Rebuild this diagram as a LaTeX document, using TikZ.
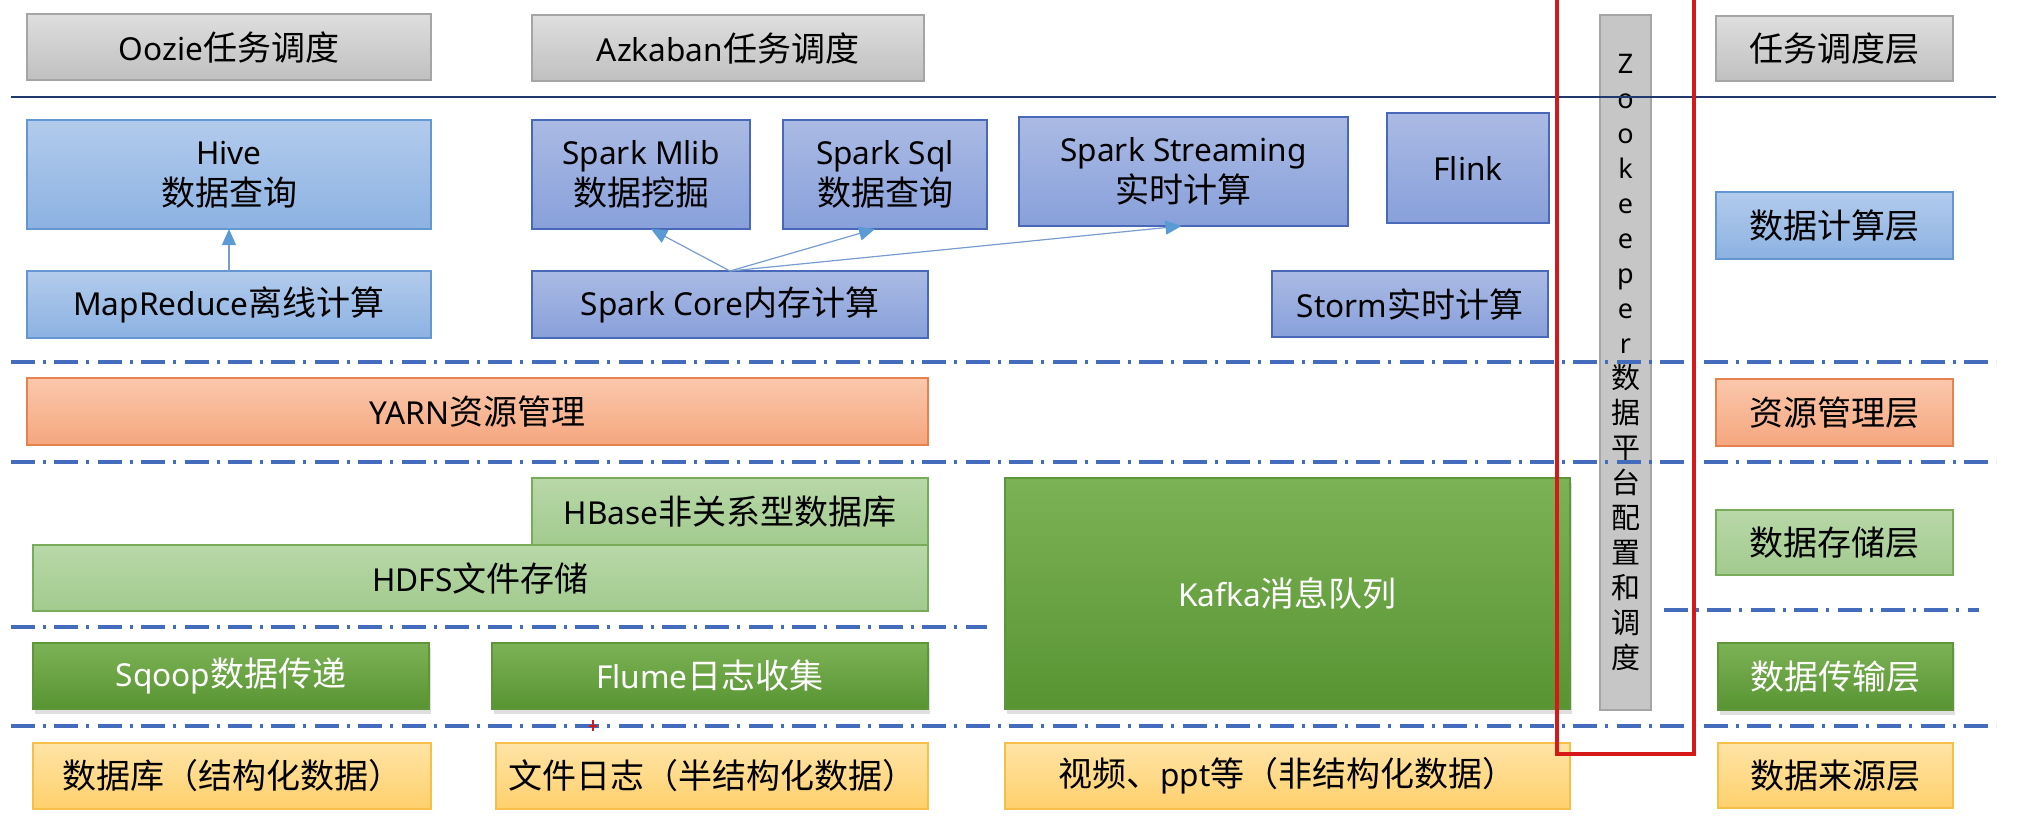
\documentclass[tikz,border=0pt]{standalone}
\usepackage{fontspec}
\setmainfont{Noto Sans}[Scale=0.93]
\newfontfamily\zhfont{Noto Sans CJK SC}
\newcommand\zh[1]{{\zhfont #1}}
\usetikzlibrary{arrows.meta,shadows}
\definecolor{grayT}{RGB}{222,222,222}
\definecolor{grayB}{RGB}{192,192,192}
\definecolor{grayD}{RGB}{165,165,165}
\definecolor{ltblueT}{RGB}{178,203,236}
\definecolor{ltblueB}{RGB}{140,178,226}
\definecolor{ltblueD}{RGB}{100,150,210}
\definecolor{spT}{RGB}{170,186,228}
\definecolor{spB}{RGB}{136,160,218}
\definecolor{spD}{RGB}{72,104,184}
\definecolor{orT}{RGB}{250,200,172}
\definecolor{orB}{RGB}{245,166,126}
\definecolor{orD}{RGB}{230,130,80}
\definecolor{lgT}{RGB}{184,216,168}
\definecolor{lgB}{RGB}{162,202,142}
\definecolor{lgD}{RGB}{120,172,90}
\definecolor{gT}{RGB}{124,178,86}
\definecolor{gB}{RGB}{88,148,50}
\definecolor{gD}{RGB}{96,150,58}
\definecolor{yT}{RGB}{255,228,166}
\definecolor{yB}{RGB}{255,208,108}
\definecolor{yD}{RGB}{246,192,72}
\definecolor{ddblue}{RGB}{68,108,188}
\definecolor{navy}{RGB}{32,56,110}
\definecolor{redline}{RGB}{214,24,24}
\definecolor{arrblue}{RGB}{91,155,213}
\definecolor{arrline}{RGB}{120,156,206}
\newcommand\mainsize{\fontsize{17}{20.5}\selectfont}
\newcommand\zksize{\fontsize{14.5}{17.5}\selectfont}
\tikzset{
  box/.style={draw, line width=0.7pt, inner sep=0pt, outer sep=0pt, align=center, font=\mainsize, text=black},
  graybox/.style={box, draw=grayD, top color=grayT, bottom color=grayB},
  ltbluebox/.style={box, draw=ltblueD, top color=ltblueT, bottom color=ltblueB},
  sparkbox/.style={box, draw=spD, top color=spT, bottom color=spB},
  orangebox/.style={box, draw=orD, top color=orT, bottom color=orB},
  lgreenbox/.style={box, draw=lgD, top color=lgT, bottom color=lgB},
  greenbox/.style={box, draw=gD, top color=gT, bottom color=gB, text=white,
    drop shadow={shadow xshift=1pt, shadow yshift=-2.5pt, opacity=0.25}},
  yellowbox/.style={box, draw=yD, top color=yT, bottom color=yB},
  zkbox/.style={box, draw=grayD, fill=grayB!90!white, font=\zksize},
  ddline/.style={draw=ddblue, line width=1.65pt, dash pattern=on 12pt off 4pt on 1.5pt off 4.2pt},
  solidline/.style={draw=navy, line width=0.8pt},
  arr/.style={draw=arrline, line width=0.6pt, -{Triangle[length=8pt,width=7pt,color=arrblue]}},
  redframe/.style={draw=redline, line width=1.8pt},
}
\begin{document}
\begin{tikzpicture}[x=0.5pt,y=-0.5pt]
\useasboundingbox (0,0) rectangle (2037,820);
% Zookeeper column (drawn first, lines go over it)
\node[zkbox, minimum width=25.5pt, minimum height=347.5pt] (zk) at (1625.5,362.5)
  {Z\\o\\o\\k\\e\\e\\p\\e\\r\\\zh{数}\\\zh{据}\\\zh{平}\\\zh{台}\\\zh{配}\\\zh{置}\\\zh{和}\\\zh{调}\\\zh{度}};
% separators
\coordinate (s1a) at (11,97);   \coordinate (s1b) at (1996,97);
\coordinate (d1a) at (11,362); \coordinate (d1b) at (1996,362);
\coordinate (d2a) at (11,462);  \coordinate (d2b) at (1996,462);
\coordinate (d3a) at (11,627);  \coordinate (d3b) at (987,627);
\coordinate (d3c) at (1664,610); \coordinate (d3d) at (1979,610);
\coordinate (d4a) at (11,726);  \coordinate (d4b) at (1996,726);
\draw[solidline] (s1a) -- (s1b);
\draw[ddline] (d1a) -- (d1b);
\draw[ddline] (d2a) -- (d2b);
\draw[ddline] (d3a) -- (d3b);
\draw[ddline] (d3c) -- (d3d);
\draw[ddline] (d4a) -- (d4b);
% scheduling layer
\node[graybox, minimum width=202pt, minimum height=33pt] (oozie) at (229,47) {Oozie\zh{任务调度}};
\node[graybox, minimum width=196pt, minimum height=33pt] (azkaban) at (728,48) {Azkaban\zh{任务调度}};
% compute layer
\node[ltbluebox, minimum width=202pt, minimum height=54.5pt] (hive) at (229,174.5) {Hive\\\zh{数据查询}};
\node[sparkbox, minimum width=109pt, minimum height=54.5pt] (mlib) at (641,174.5) {Spark Mlib\\\zh{数据挖掘}};
\node[sparkbox, minimum width=102pt, minimum height=54.5pt] (sql) at (885,174.5) {Spark Sql\\\zh{数据查询}};
\node[sparkbox, minimum width=164.5pt, minimum height=54.5pt] (streaming) at (1183.5,171.5) {Spark Streaming\\\zh{实时计算}};
\node[sparkbox, minimum width=81pt, minimum height=55pt] (flink) at (1468,168) {Flink};
\node[ltbluebox, minimum width=202pt, minimum height=33.5pt] (mapreduce) at (229,304.5) {MapReduce\zh{离线计算}};
\node[sparkbox, minimum width=198pt, minimum height=33.5pt] (sparkcore) at (730,304.5) {Spark Core\zh{内存计算}};
\node[sparkbox, minimum width=138pt, minimum height=33pt] (storm) at (1410,304) {Storm\zh{实时计算}};
% resource layer
\node[orangebox, minimum width=450.5pt, minimum height=33.5pt] (yarn) at (477.5,411.5) {YARN\zh{资源管理}};
% storage layer
\node[lgreenbox, minimum width=198pt, minimum height=33.5pt] (hbase) at (730,511.5) {HBase\zh{非关系型数据库}};
\node[lgreenbox, minimum width=447.5pt, minimum height=33pt] (hdfs) at (480.5,578) {HDFS\zh{文件存储}};
% transfer layer
\node[greenbox, minimum width=282.5pt, minimum height=115.5pt] (kafka) at (1287.5,593.5) {Kafka\zh{消息队列}};
\node[greenbox, minimum width=198pt, minimum height=33pt] (sqoop) at (231,676) {Sqoop\zh{数据传递}};
\node[greenbox, minimum width=218pt, minimum height=33pt] (flume) at (710,676) {Flume\zh{日志收集}};
% source layer
\node[yellowbox, minimum width=199pt, minimum height=33pt] (db) at (232,776) {\zh{数据库（结构化数据）}};
\node[yellowbox, minimum width=216pt, minimum height=33pt] (filelog) at (712,776) {\zh{文件日志（半结构化数据）}};
\node[yellowbox, minimum width=282.5pt, minimum height=33pt] (video) at (1287.5,776) {\zh{视频、}ppt\zh{等（非结构化数据）}};
% layer labels
\node[graybox, minimum width=118.5pt, minimum height=32.5pt] (l1) at (1834.5,48.5) {\zh{任务调度层}};
\node[ltbluebox, minimum width=118.5pt, minimum height=33.5pt] (l2) at (1834.5,225.5) {\zh{数据计算层}};
\node[orangebox, minimum width=118.5pt, minimum height=33.5pt] (l3) at (1834.5,412.5) {\zh{资源管理层}};
\node[lgreenbox, minimum width=118.5pt, minimum height=32.5pt] (l4) at (1834.5,542.5) {\zh{数据存储层}};
\node[greenbox, minimum width=117.5pt, minimum height=33.5pt] (l5) at (1835.5,676.5) {\zh{数据传输层}};
\node[yellowbox, minimum width=117.5pt, minimum height=32.5pt] (l6) at (1835.5,775.5) {\zh{数据来源层}};
% arrows
\draw[arr] (mapreduce.north) -- (hive.south);
\draw[arr] (sparkcore.north) -- ([xshift=5pt]mlib.south);
\draw[arr] (sparkcore.north) -- ([xshift=-5pt]sql.south);
\draw[arr] (sparkcore.north) -- ([xshift=-1pt]streaming.south);
% red frame round the Zookeeper column
\coordinate (r1) at (1557,-6); \coordinate (r2) at (1557,754);
\coordinate (r3) at (1694,754); \coordinate (r4) at (1694,-6);
\draw[redframe] (r1) -- (r2) -- (r3) -- (r4);
% small red mark
\coordinate (m1) at (593,720); \coordinate (m2) at (593,731);
\coordinate (m3) at (589,726); \coordinate (m4) at (597,726);
\draw[redline, line width=0.8pt] (m1) -- (m2) (m3) -- (m4);
\end{tikzpicture}
\end{document}
